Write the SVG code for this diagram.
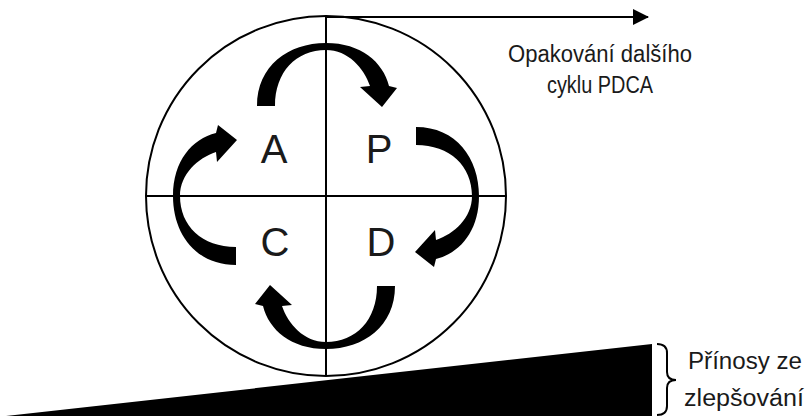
<svg xmlns="http://www.w3.org/2000/svg" xmlns:xlink="http://www.w3.org/1999/xlink" width="811" height="416" viewBox="0 0 811 416">
  <style>
    .line { fill: none; stroke: #000; stroke-width: 2; }
    .label { font-family: "Liberation Sans", Arial, sans-serif; fill: #1a1a1a; }
    .big { font-size: 40px; text-anchor: middle; }
    .note { font-size: 23px; text-anchor: middle; }
  </style>
  <defs>
    <!-- curved arrow in the upper half, relative to the circle centre -->
    <path id="curl" fill="#000"
      d="M -69,-90 C -69,-130 -38,-153 0,-153 C 35,-153 57,-134 63,-110
         L 71,-108 L 56,-89 L 34,-109 L 44,-110
         C 38,-128 22,-146 0,-146 C -30,-146 -51,-124 -51,-90 Z"/>
    <marker id="head" markerWidth="16" markerHeight="16" refX="15" refY="8" orient="auto" markerUnits="userSpaceOnUse">
      <path d="M 0,0 L 16,8 L 0,16 Z" fill="#000"/>
    </marker>
  </defs>

  <!-- rising benefit wedge -->
  <polygon id="wedge" points="6,416 652,344 652,416" fill="#000"/>

  <!-- cycle wheel -->
  <g id="wheel">
    <circle class="line" cx="326" cy="196" r="180"/>
    <line class="line" x1="326" y1="16" x2="326" y2="376"/>
    <line class="line" x1="146" y1="196" x2="506" y2="196"/>
  </g>

  <g id="node-A"><text class="label big" x="274" y="163">A</text></g>
  <g id="node-P"><text class="label big" x="379" y="163">P</text></g>
  <g id="node-C"><text class="label big" x="275" y="256">C</text></g>
  <g id="node-D"><text class="label big" x="381" y="256">D</text></g>

  <g id="connectors">
    <use xlink:href="#curl" href="#curl" transform="translate(326,196)"/>
    <use xlink:href="#curl" href="#curl" transform="translate(326,196) rotate(90)"/>
    <use xlink:href="#curl" href="#curl" transform="translate(326,196) rotate(180)"/>
    <use xlink:href="#curl" href="#curl" transform="translate(326,196) rotate(270)"/>
    <line class="line" x1="326" y1="17" x2="648" y2="17" marker-end="url(#head)"/>
  </g>

  <g id="next-cycle">
    <text class="label note" x="600" y="62" textLength="184" lengthAdjust="spacingAndGlyphs">Opakování dalšího</text>
    <text class="label note" x="600" y="93" textLength="106" lengthAdjust="spacingAndGlyphs">cyklu PDCA</text>
  </g>

  <g id="benefits">
    <path class="line" stroke-width="2.5" d="M 657,344 Q 667,344 667,353 L 667,372 Q 667,380 676,380 Q 667,380 667,388 L 667,406 Q 667,415 657,415"/>
    <text class="label note" x="745" y="369" textLength="114" lengthAdjust="spacingAndGlyphs">Přínosy ze</text>
    <text class="label note" x="744" y="406" textLength="120" lengthAdjust="spacingAndGlyphs">zlepšování</text>
  </g>
</svg>
